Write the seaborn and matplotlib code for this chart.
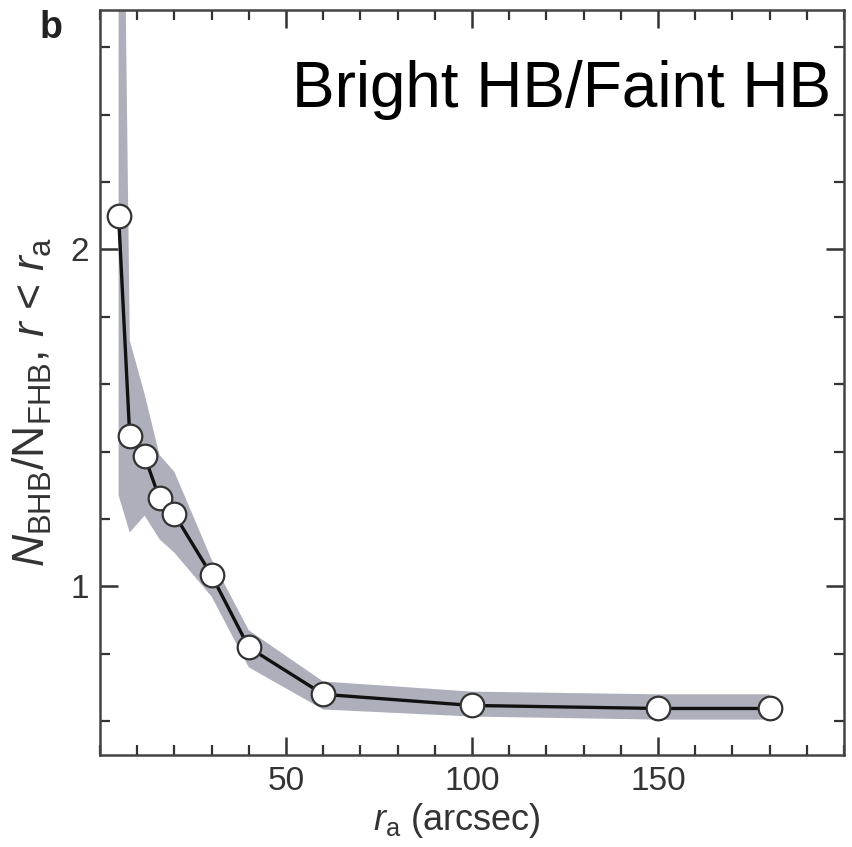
import numpy as np
import pandas as pd
import matplotlib
matplotlib.use("Agg")
import matplotlib.pyplot as plt
import seaborn as sns
from matplotlib.ticker import MultipleLocator, FixedLocator

# Data
r_a = [5, 8, 12, 16, 20, 30, 40, 60, 100, 150, 180]
ratio = [2.10, 1.445, 1.386, 1.261, 1.214, 1.033, 0.819, 0.680, 0.647, 0.638, 0.638]
band_upper = [4.50, 1.73, 1.57, 1.39, 1.34, 1.08, 0.87, 0.718, 0.688, 0.680, 0.680]
band_lower = [1.27, 1.16, 1.21, 1.14, 1.10, 0.97, 0.76, 0.635, 0.614, 0.605, 0.605]

x_major = [50, 100, 150]
y_major = [1, 2]
y_major_labels = ["1", "2"]

sns.set_theme(style="ticks")
plt.rcParams['font.family'] = ['Liberation Sans', 'DejaVu Sans']
plt.rcParams['mathtext.fontset'] = 'custom'
plt.rcParams['mathtext.rm'] = 'Liberation Sans'
plt.rcParams['mathtext.it'] = 'Liberation Sans:italic'

df = pd.DataFrame({"r_a": r_a, "ratio": ratio})

fig = plt.figure(figsize=(8.52, 8.47), dpi=100)
ax = fig.add_axes([100/852, 1 - 755/847, 744/852, 745/847])

ax.fill_between(r_a, band_lower, band_upper, color="#adafbb", linewidth=0, zorder=1)
sns.lineplot(data=df, x="r_a", y="ratio", ax=ax, color="#111111", linewidth=2.4,
             marker="o", markersize=17, markerfacecolor="white",
             markeredgecolor="#333333", markeredgewidth=1.6, zorder=3)

ax.set_xlim(0, 200)
ax.set_ylim(0.5, 2.71)

ax.xaxis.set_major_locator(FixedLocator(x_major))
ax.xaxis.set_minor_locator(MultipleLocator(10))
ax.yaxis.set_major_locator(FixedLocator(y_major))
ax.set_yticklabels(y_major_labels)
ax.yaxis.set_minor_locator(MultipleLocator(0.2))

ax.tick_params(which="both", direction="in", top=True, right=True,
               color="#333333", labelcolor="#333333", labelsize=24, pad=8)
ax.tick_params(which="major", length=13, width=1.8)
ax.tick_params(which="minor", length=7, width=1.6)

for s in ax.spines.values():
    s.set_color("#444444")
    s.set_linewidth(1.8)

ax.set_xlabel(r"$\mathit{r}_{\mathrm{a}}$ (arcsec)", fontsize=26, color="#333333")
ax.xaxis.set_label_coords(0.48, -0.062)
ax.set_ylabel(r"$\mathit{N}_{\mathrm{BHB}}$/N$_{\mathrm{FHB}}$, $\mathit{r}$ < $\mathit{r}_{\mathrm{a}}$",
              fontsize=32, color="#333333")
ax.yaxis.set_label_coords(-0.062, 0.474)

ax.text(0.983, 0.87, "Bright HB/Faint HB", transform=ax.transAxes, ha="right",
        va="baseline", fontsize=46, color="black")
fig.text(40/852, 1 - 38/847, "b", fontsize=27, fontweight="bold", color="#222222")

fig.savefig("out.png", dpi=100)
